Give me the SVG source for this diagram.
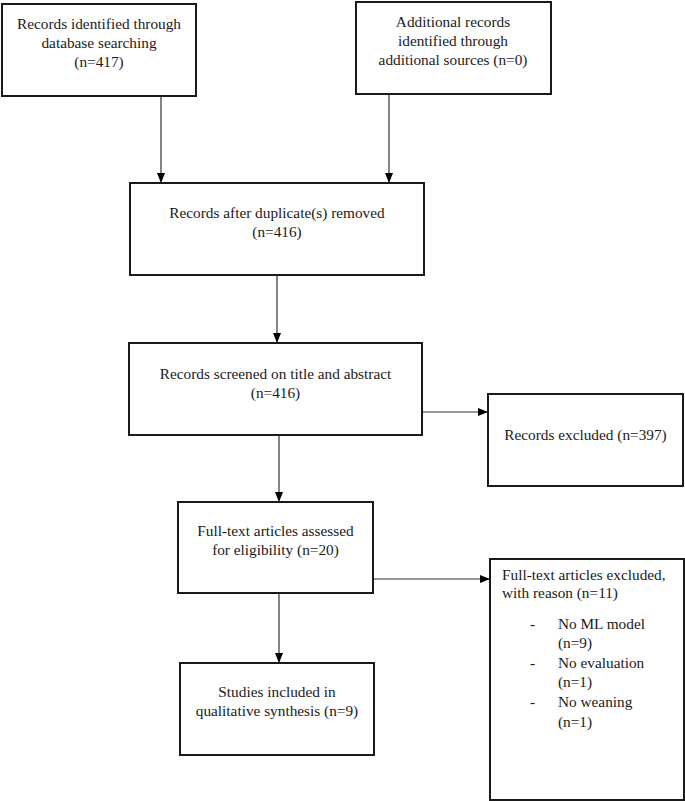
<svg xmlns="http://www.w3.org/2000/svg" width="685" height="801" viewBox="0 0 685 801">
  <style>
    .box { fill: #ffffff; stroke: #1a1a1a; stroke-width: 2; }
    .lbl { font-size: 15.3px; fill: #1a1a1a; }
    .c { text-anchor: middle; }
    .conn { stroke: #333333; stroke-width: 1.2; fill: none; }
  </style>
  <defs>
    <marker id="ah" viewBox="0 0 10 8" refX="10" refY="4" markerWidth="10" markerHeight="8" markerUnits="userSpaceOnUse" orient="auto">
      <path d="M0,0 L10,4 L0,8 z" fill="#000000"/>
    </marker>
  </defs>
  <rect width="685" height="801" fill="#ffffff"/>

  <g id="connectors">
    <line class="conn" x1="161" y1="96" x2="161" y2="183" marker-end="url(#ah)"/>
    <line class="conn" x1="389" y1="94" x2="389" y2="183" marker-end="url(#ah)"/>
    <line class="conn" x1="277" y1="275" x2="277" y2="343" marker-end="url(#ah)"/>
    <line class="conn" x1="279" y1="435" x2="279" y2="502" marker-end="url(#ah)"/>
    <line class="conn" x1="422" y1="412" x2="488" y2="412" marker-end="url(#ah)"/>
    <line class="conn" x1="373" y1="579" x2="490" y2="579" marker-end="url(#ah)"/>
    <line class="conn" x1="279" y1="593" x2="279" y2="663" marker-end="url(#ah)"/>
  </g>

  <g font-family="'Liberation Serif', 'Times New Roman', Times, 'DejaVu Serif', serif">
  <g id="n1">
    <rect class="box" x="2" y="4" width="194" height="92"/>
    <text class="lbl c" x="99" y="29">Records identified through</text>
    <text class="lbl c" x="99" y="48">database searching</text>
    <text class="lbl c" x="99" y="67">(n=417)</text>
  </g>

  <g id="n2">
    <rect class="box" x="356" y="2" width="195" height="92"/>
    <text class="lbl c" x="453" y="27">Additional records</text>
    <text class="lbl c" x="453" y="46">identified through</text>
    <text class="lbl c" x="453" y="65">additional sources (n=0)</text>
  </g>

  <g id="n3">
    <rect class="box" x="130" y="183" width="294" height="92"/>
    <text class="lbl c" x="277" y="218">Records after duplicate(s) removed</text>
    <text class="lbl c" x="277" y="237">(n=416)</text>
  </g>

  <g id="n4">
    <rect class="box" x="129" y="343" width="293" height="92"/>
    <text class="lbl c" x="275.5" y="379">Records screened on title and abstract</text>
    <text class="lbl c" x="275.5" y="398">(n=416)</text>
  </g>

  <g id="n5">
    <rect class="box" x="488" y="394" width="195" height="92"/>
    <text class="lbl c" x="585.5" y="440">Records excluded (n=397)</text>
  </g>

  <g id="n6">
    <rect class="box" x="178" y="502" width="195" height="91"/>
    <text class="lbl c" x="275.5" y="536">Full-text articles assessed</text>
    <text class="lbl c" x="275.5" y="555">for eligibility (n=20)</text>
  </g>

  <g id="n7">
    <rect class="box" x="490" y="559" width="194" height="241"/>
    <text class="lbl" x="502" y="580">Full-text articles excluded,</text>
    <text class="lbl" x="502" y="598">with reason (n=11)</text>
    <text class="lbl" x="530" y="629">-</text>
    <text class="lbl" x="558" y="629">No ML model</text>
    <text class="lbl" x="558" y="648">(n=9)</text>
    <text class="lbl" x="530" y="668">-</text>
    <text class="lbl" x="558" y="668">No evaluation</text>
    <text class="lbl" x="558" y="687">(n=1)</text>
    <text class="lbl" x="530" y="707">-</text>
    <text class="lbl" x="558" y="707">No weaning</text>
    <text class="lbl" x="558" y="727">(n=1)</text>
  </g>

  <g id="n8">
    <rect class="box" x="180" y="663" width="194" height="92"/>
    <text class="lbl c" x="277" y="697">Studies included in</text>
    <text class="lbl c" x="277" y="716">qualitative synthesis (n=9)</text>
  </g>
  </g>
</svg>
